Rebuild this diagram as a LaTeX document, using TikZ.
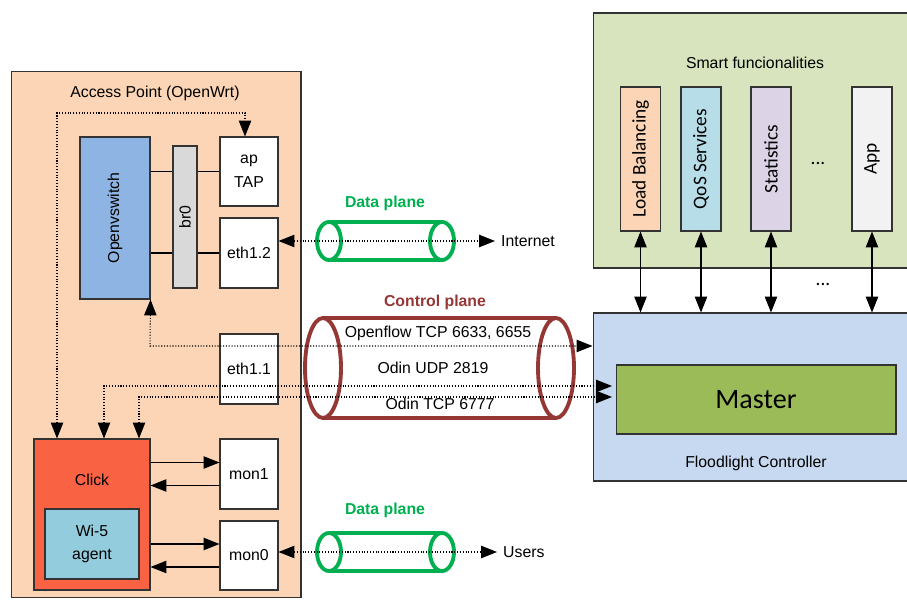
\documentclass[tikz,border=0pt]{standalone}
\usepackage{fontspec}
\setmainfont{Liberation Sans}
\newfontfamily\calibri{Carlito}
\usetikzlibrary{arrows.meta,positioning}

\definecolor{apbg}{HTML}{FBD5B5}
\definecolor{ovsblue}{HTML}{8EB4E3}
\definecolor{brgray}{HTML}{D9D9D9}
\definecolor{clickred}{HTML}{F96343}
\definecolor{agentblue}{HTML}{93CDDD}
\definecolor{smartgreen}{HTML}{D7E4BD}
\definecolor{ctrlblue}{HTML}{C6D9F1}
\definecolor{mastergreen}{HTML}{9BBB59}
\definecolor{qosblue}{HTML}{B7DEE8}
\definecolor{statlilac}{HTML}{DCD4E6}
\definecolor{appgray}{HTML}{F2F2F2}
\definecolor{planegreen}{HTML}{00B050}
\definecolor{ctrlred}{HTML}{953735}

\begin{document}
\begin{tikzpicture}[
    x=0.02cm, y=-0.02cm,
    font=\fontsize{9}{13.5}\selectfont,
    box/.style={draw=black!80, line width=0.6pt, rectangle, inner sep=0pt, align=center},
    port/.style={box, fill=white, minimum width=1.16cm, minimum height=1.4cm},
    func/.style={box, minimum width=0.8cm, minimum height=2.88cm, font=\calibri\fontsize{11}{13}\selectfont},
    arrow/.style={-{Triangle[length=9pt,width=7pt]}, line width=0.6pt},
    darrow/.style={{Triangle[length=9pt,width=7pt]}-{Triangle[length=9pt,width=7pt]}, line width=0.6pt},
    dline/.style={darrow, densely dotted},
    tube/.style={line width=2.2pt},
    plane/.style={font=\fontsize{9}{13}\selectfont\bfseries},
]
\useasboundingbox (0,0) rectangle (907,601);

% access point
\node [box, fill=apbg, minimum width=5.8cm, minimum height=10.54cm] (ap) at (156,334.5) {};
\node (aplbl) at (155,93) {Access Point (OpenWrt)};
\node [box, fill=ovsblue, minimum width=1.4cm, minimum height=3.24cm] (ovs) at (115,218) {\rotatebox{90}{Openvswitch}};
\node [port, minimum height=1.38cm] (tap) at (249,171.5) {ap\\TAP};
\node [port] (eth12) at (249,253) {eth1.2};
\draw [line width=0.6pt] (ovs.east |- tap.west) -- (tap.west);
\draw [line width=0.6pt] (ovs.east |- eth12.west) -- (eth12.west);
\node [box, fill=brgray, minimum width=0.48cm, minimum height=2.84cm] (br) at (185,217) {\rotatebox{90}{br0}};
\node [port] (eth11) at (249,369) {eth1.1};
\node [port] (mon1) at (249,474) {mon1};
\node [port, minimum height=1.38cm] (mon0) at (249,555.5) {mon0};
\node [box, fill=clickred, minimum width=2.32cm, minimum height=3.02cm] (click) at (92,514.5) {};
\node (clicklbl) at (92,480) {Click};
\node [box, fill=agentblue, minimum width=1.88cm, minimum height=1.4cm] (agent) at (92,544) {Wi-5\\agent};

\foreach \m in {mon1,mon0} {
    \coordinate (in\m) at ([yshift=0.23cm]\m.west);
    \coordinate (out\m) at ([yshift=-0.23cm]\m.west);
    \draw [arrow] (click.east |- in\m) -- (in\m);
    \draw [arrow] (out\m) -- (click.east |- out\m);
}

% controller side
\node [box, fill=smartgreen, minimum width=6.38cm, minimum height=5.1cm] (smart) at (752.5,140.5) {};
\node (smartlbl) at (755,63) {Smart funcionalities};
\node [func, fill=apbg] (lb) at (640.5,159) {\rotatebox{90}{Load Balancing}};
\node [func, fill=qosblue] (qos) at (701,159) {\rotatebox{90}{QoS Services}};
\node [func, fill=statlilac] (stat) at (771,159) {\rotatebox{90}{Statistics}};
\node [func, fill=appgray] (app) at (872,159) {\rotatebox{90}{App}};
\node [font=\calibri\fontsize{11}{13}\selectfont] (dots1) at (818,163) {...};

\node [box, fill=ctrlblue, minimum width=6.38cm, minimum height=3.36cm] (ctrl) at (752.5,397) {};
\node [box, fill=mastergreen, minimum width=5.6cm, minimum height=1.38cm, font=\calibri\fontsize{16}{18}\selectfont] (master) at (756,399.5) {Master};
\node (ctrllbl) at (756,463) {Floodlight Controller};

\foreach \f in {lb,qos,stat,app}
    \draw [darrow] (\f.south) -- (\f.south |- ctrl.north);
\node [font=\calibri\fontsize{11}{13}\selectfont] (dots2) at (823,284) {...};

% planes
\foreach \y in {241,552} {
    \draw [tube, planegreen] (329,\y) ellipse [x radius=0.24cm, y radius=0.38cm];
    \draw [tube, planegreen] (442,\y) ellipse [x radius=0.24cm, y radius=0.38cm];
    \draw [tube, planegreen] (329,\y-19) -- (442,\y-19) (329,\y+19) -- (442,\y+19);
}
\draw [tube, ctrlred] (323,368) ellipse [x radius=0.36cm, y radius=1cm];
\draw [tube, ctrlred] (556,368) ellipse [x radius=0.36cm, y radius=1cm];
\draw [tube, ctrlred] (323,318) -- (556,318) (323,418) -- (556,418);

\node [plane, text=planegreen] (dp1) at (385,203) {Data plane};
\node [plane, text=planegreen] (dp2) at (385,510) {Data plane};
\node [plane, text=ctrlred] (cp) at (435,302) {Control plane};
\node [anchor=west] (inet) at (495,241) {Internet};
\node [anchor=west] (users) at (497,552) {Users};
\draw [dline] (inet.west -| eth12.east) -- (inet.west);
\draw [dline] (users.west -| mon0.east) -- (users.west);

% control links
\coordinate (clickbend) at (57,113);
\coordinate (tapbend) at (245,113);
\coordinate (ofbend) at (150,346);
\coordinate (udpbend) at (104,386);
\coordinate (tcpbend) at (139,397);
\draw [dline] (clickbend |- click.north) -- (clickbend) -- (tapbend) -- (tapbend |- tap.north);
\draw [dline] (ovs.south east) -- (ofbend) -- (ofbend -| ctrl.west);
\draw [dline, shorten >=2pt] (udpbend |- click.north) -- (udpbend) -- (udpbend -| master.west);
\draw [dline, shorten >=2pt] (tcpbend |- click.north) -- (tcpbend) -- (tcpbend -| master.west);

\node (oflbl) at (438,333) {Openflow TCP 6633, 6655};
\node (udplbl) at (433,368) {Odin UDP 2819};
\node (tcplbl) at (440,404) {Odin TCP 6777};
\end{tikzpicture}
\end{document}
